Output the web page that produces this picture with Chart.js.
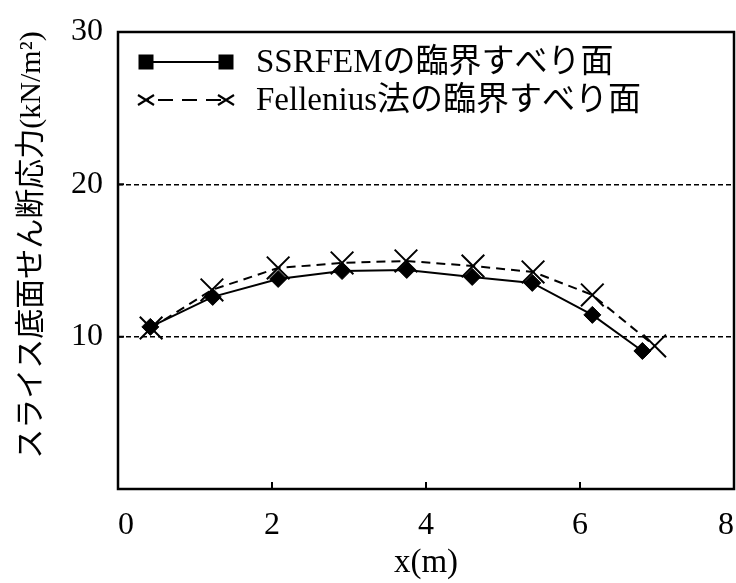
<!DOCTYPE html>
<html>
<head>
<meta charset="utf-8">
<script src="https://cdn.jsdelivr.net/npm/chart.js@4/dist/chart.umd.min.js"></script>
<style>
  html, body { margin: 0; padding: 0; background: #fff; }
  canvas { display: block; }
</style>
</head>
<body>
<canvas id="c" width="736" height="583"></canvas>
<script>
// Slice positions (m) and slice-base shear stress (kN/m²) along each critical slip surface
const ssrfemX = [0.42, 1.23, 2.08, 2.91, 3.75, 4.60, 5.38, 6.16, 6.81];
const ssrfemTau = [10.64, 12.61, 13.79, 14.31, 14.38, 13.92, 13.53, 11.43, 9.06];
const felleniusX = [0.43, 1.22, 2.08, 2.91, 3.74, 4.61, 5.39, 6.16, 6.97];
const felleniusTau = [10.57, 13.07, 14.51, 14.84, 14.97, 14.64, 14.25, 12.74, 9.39];

const xTicks = [0, 2, 4, 6, 8];
const yTicks = [0, 10, 20, 30];
const seriesNames = ['SSRFEMの臨界すべり面', 'Fellenius法の臨界すべり面'];
const xTitle = 'x(m)';
const yTitle = 'スライス底面せん断応力(kN/m²)';

const FONT = '"Liberation Serif", "Noto Sans CJK JP", serif';

function toPoints(xs, ys) {
  return xs.map((x, i) => ({ x: x, y: ys[i] }));
}

// Frame, inward tick marks, legend and rotated y title
const decorations = {
  id: 'decorations',
  afterDraw(chart) {
    const { ctx, chartArea: a, scales } = chart;
    ctx.save();

    // inward tick marks
    ctx.strokeStyle = '#000';
    ctx.lineWidth = 2;
    ctx.beginPath();
    xTicks.slice(1, -1).forEach(v => {
      const px = scales.x.getPixelForValue(v);
      ctx.moveTo(px, a.bottom);
      ctx.lineTo(px, a.bottom - 7);
    });
    yTicks.slice(1, -1).forEach(v => {
      const py = scales.y.getPixelForValue(v);
      ctx.moveTo(a.left, py);
      ctx.lineTo(a.left + 6, py);
    });
    ctx.stroke();

    // plot frame
    ctx.lineWidth = 2.5;
    ctx.strokeRect(a.left, a.top, a.right - a.left, a.bottom - a.top);

    // legend
    const lx0 = a.left + 28, lx1 = a.left + 108, tx = a.left + 138;
    const r1 = a.top + 30, r2 = a.top + 68;
    ctx.fillStyle = '#000';
    ctx.lineWidth = 2;
    ctx.setLineDash([]);
    ctx.beginPath();
    ctx.moveTo(lx0, r1);
    ctx.lineTo(lx1, r1);
    ctx.stroke();
    [lx0, lx1].forEach(px => ctx.fillRect(px - 7.5, r1 - 7.5, 15, 15));

    ctx.setLineDash([15, 9]);
    ctx.lineDashOffset = -12;
    ctx.beginPath();
    ctx.moveTo(lx0, r2);
    ctx.lineTo(lx1, r2);
    ctx.stroke();
    ctx.setLineDash([]);
    ctx.lineWidth = 2.2;
    ctx.beginPath();
    [lx0, lx1].forEach(px => {
      ctx.moveTo(px - 8, r2 - 5); ctx.lineTo(px + 8, r2 + 5);
      ctx.moveTo(px - 8, r2 + 5); ctx.lineTo(px + 8, r2 - 5);
    });
    ctx.stroke();

    ctx.font = '33px ' + FONT;
    ctx.textAlign = 'left';
    ctx.textBaseline = 'middle';
    ctx.fillText(seriesNames[0], tx, r1 + 1);
    ctx.fillText(seriesNames[1], tx, r2 + 1);

    // y axis title
    ctx.translate(32, 245);
    ctx.rotate(-Math.PI / 2);
    ctx.font = '30px ' + FONT;
    ctx.textAlign = 'center';
    ctx.textBaseline = 'middle';
    ctx.fillText(yTitle, 0, 0);

    ctx.restore();
  }
};

new Chart(document.getElementById('c'), {
  type: 'scatter',
  data: {
    datasets: [
      {
        label: seriesNames[0],
        data: toPoints(ssrfemX, ssrfemTau),
        showLine: true,
        borderColor: '#000',
        backgroundColor: '#000',
        borderWidth: 2,
        pointStyle: 'rectRot',
        pointRadius: 8.5,
        pointHoverRadius: 8.5,
        pointBackgroundColor: '#000',
        pointBorderColor: '#000',
        pointBorderWidth: 1,
        tension: 0
      },
      {
        label: seriesNames[1],
        data: toPoints(felleniusX, felleniusTau),
        showLine: true,
        borderColor: '#000',
        backgroundColor: '#000',
        borderWidth: 2,
        borderDash: [9, 6],
        pointStyle: 'crossRot',
        pointRadius: 16,
        pointHoverRadius: 16,
        pointBorderColor: '#000',
        pointBorderWidth: 2,
        tension: 0
      }
    ]
  },
  options: {
    responsive: false,
    animation: false,
    devicePixelRatio: 1,
    layout: { autoPadding: false, padding: { top: 32, right: 2, bottom: 0, left: 0 } },
    plugins: {
      legend: { display: false },
      tooltip: { enabled: false }
    },
    scales: {
      x: {
        type: 'linear',
        min: 0,
        max: 8,
        afterBuildTicks: s => { s.ticks = xTicks.map(v => ({ value: v })); },
        afterFit: s => { s.height = 94; s.paddingLeft = 0; s.paddingRight = 0; },
        grid: { display: false, drawTicks: false },
        border: { display: false },
        ticks: {
          color: '#000',
          padding: 17,
          maxRotation: 0,
          align: 'inner',
          font: { family: FONT, size: 32 }
        },
        title: {
          display: true,
          text: xTitle,
          color: '#000',
          padding: { top: 0, bottom: 0 },
          font: { family: FONT, size: 33 }
        }
      },
      y: {
        type: 'linear',
        min: 0,
        max: 30,
        afterBuildTicks: s => { s.ticks = yTicks.map(v => ({ value: v })); },
        afterFit: s => { s.width = 118; s.paddingTop = 0; s.paddingBottom = 0; },
        grid: {
          drawTicks: false,
          lineWidth: 1.5,
          color: c => (c.tick && (c.tick.value === 10 || c.tick.value === 20)) ? '#000' : 'rgba(0,0,0,0)'
        },
        border: { display: false, dash: [5, 3] },
        ticks: {
          color: '#000',
          padding: 15,
          font: { family: FONT, size: 32 },
          callback: v => (v === 0 ? '' : String(v))
        }
      }
    }
  },
  plugins: [decorations]
});
</script>
</body>
</html>
